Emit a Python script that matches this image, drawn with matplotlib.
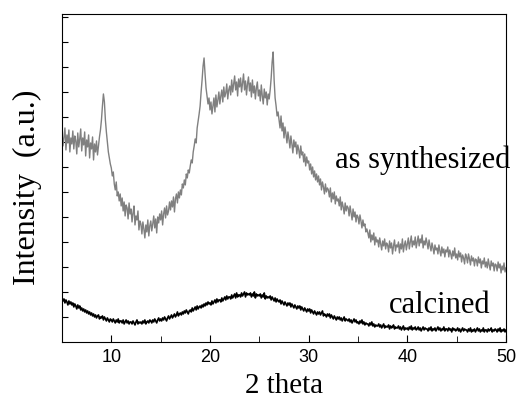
# XRD pattern: as synthesized vs calcined
import numpy as np
import matplotlib.pyplot as plt

# 2 theta grid, 0.1 degree steps from 5 to 50
two_theta = np.round(np.arange(5, 50.001, 0.1), 1)

# intensity (a.u.), one row per degree
as_synthesized = [
    210, 196, 205, 214, 192, 207, 199, 212, 190, 204,
    198, 211, 193, 206, 201, 188, 209, 195, 203, 213,
    191, 204, 197, 210, 186, 202, 195, 207, 184, 199,
    193, 205, 182, 198, 190, 201, 187, 196, 205, 212,
    222, 236, 248, 240, 222, 210, 200, 190, 184, 178,
    174, 166, 170, 158, 152, 160, 146, 150, 141, 148,
    136, 144, 131, 140, 126, 137, 134, 123, 139, 128,
    133, 120, 129, 136, 117, 126, 122, 131, 112, 121,
    118, 108, 120, 113, 104, 117, 110, 122, 106, 116,
    121, 111, 118, 126, 114, 123, 109, 125, 119, 128,
    122, 131, 117, 128, 134, 124, 136, 127, 131, 140,
    132, 141, 135, 145, 130, 143, 148, 139, 150, 144,
    152, 147, 158, 154, 162, 157, 168, 164, 172, 169,
    176, 182, 179, 190, 196, 203, 199, 214, 221, 228,
    236, 250, 262, 276, 284, 268, 254, 246, 238, 244,
    232, 240, 228, 236, 244, 230, 247, 235, 242, 250,
    238, 246, 252, 240, 255, 245, 249, 258, 243, 252,
    256, 247, 262, 250, 258, 266, 252, 260, 246, 263,
    255, 264, 250, 259, 268, 252, 261, 247, 258, 265,
    251, 259, 245, 262, 249, 256, 243, 254, 260, 246,
    252, 241, 257, 246, 238, 253, 244, 250, 237, 248,
    243, 252, 264, 280, 290, 262, 244, 236, 226, 230,
    222, 214, 226, 211, 219, 204, 215, 208, 199, 210,
    203, 194, 206, 198, 189, 202, 195, 200, 188, 197,
    192, 184, 196, 187, 190, 180, 188, 176, 185, 179,
    181, 172, 178, 168, 175, 165, 171, 162, 168, 160,
    166, 157, 163, 152, 160, 155, 148, 158, 150, 154,
    152, 145, 154, 140, 149, 143, 150, 138, 146, 141,
    143, 136, 145, 132, 140, 135, 128, 139, 131, 136,
    134, 126, 136, 129, 122, 133, 125, 130, 120, 127,
    125, 118, 127, 121, 114, 122, 116, 118, 110, 113,
    109, 104, 112, 100, 107, 102, 109, 97, 105, 100,
    102, 95, 104, 98, 92, 101, 96, 103, 93, 99,
    97, 90, 101, 94, 99, 88, 96, 102, 91, 97,
    95, 100, 89, 98, 93, 103, 90, 97, 101, 92,
    98, 104, 93, 100, 106, 95, 101, 97, 105, 94,
    100, 106, 96, 103, 99, 107, 94, 101, 97, 104,
    99, 93, 102, 96, 91, 99, 94, 88, 97, 92,
    94, 88, 97, 91, 86, 95, 89, 93, 85, 92,
    90, 95, 85, 92, 88, 83, 91, 86, 94, 84,
    88, 82, 91, 85, 89, 80, 87, 84, 78, 88,
    85, 79, 88, 83, 77, 86, 81, 84, 76, 83,
    82, 76, 85, 79, 83, 74, 81, 78, 84, 75,
    80, 74, 83, 77, 72, 81, 76, 79, 71, 78,
    77, 71, 80, 74, 78, 69, 76, 72, 79, 70,
    74,
]

calcined = [
    44, 41, 43, 39, 42, 40, 37, 41, 38, 40,
    37, 39, 35, 38, 36, 33, 37, 34, 36, 32,
    34, 31, 33, 30, 32, 29, 31, 28, 30, 27,
    29, 26, 28, 25, 27, 24, 26, 27, 23, 25,
    24, 26, 22, 25, 23, 21, 24, 22, 20, 23,
    22, 20, 23, 21, 19, 22, 20, 23, 19, 21,
    21, 19, 22, 18, 20, 22, 19, 21, 18, 20,
    20, 18, 21, 19, 17, 20, 22, 18, 20, 19,
    20, 18, 21, 19, 22, 18, 20, 21, 19, 22,
    21, 19, 22, 20, 23, 21, 19, 22, 24, 21,
    23, 21, 24, 22, 25, 23, 21, 24, 26, 23,
    25, 27, 24, 26, 28, 25, 27, 30, 26, 28,
    29, 27, 30, 28, 31, 29, 32, 30, 28, 31,
    32, 30, 34, 31, 33, 35, 32, 36, 33, 35,
    36, 34, 37, 35, 38, 36, 39, 37, 40, 38,
    39, 37, 41, 38, 40, 42, 39, 43, 40, 42,
    42, 40, 44, 41, 43, 45, 42, 46, 43, 45,
    45, 43, 47, 44, 46, 48, 44, 49, 45, 47,
    47, 45, 49, 46, 48, 50, 45, 49, 47, 48,
    47, 49, 45, 48, 46, 50, 44, 48, 46, 47,
    46, 48, 44, 47, 45, 49, 43, 46, 44, 45,
    44, 46, 42, 45, 43, 41, 44, 40, 43, 41,
    40, 42, 38, 41, 39, 37, 40, 38, 36, 39,
    37, 39, 35, 38, 36, 34, 37, 35, 33, 36,
    34, 36, 32, 35, 33, 31, 34, 32, 30, 33,
    31, 33, 29, 32, 30, 28, 31, 29, 27, 30,
    28, 30, 27, 29, 31, 26, 28, 27, 25, 28,
    26, 28, 24, 27, 25, 23, 26, 24, 22, 25,
    23, 25, 22, 24, 21, 23, 25, 21, 23, 22,
    21, 23, 20, 22, 19, 21, 23, 20, 22, 19,
    20, 18, 21, 19, 22, 18, 20, 17, 19, 18,
    18, 16, 19, 17, 20, 16, 18, 15, 17, 16,
    16, 18, 15, 17, 14, 16, 18, 14, 16, 15,
    15, 17, 13, 16, 14, 15, 17, 13, 15, 14,
    14, 16, 13, 15, 12, 14, 16, 12, 14, 13,
    14, 12, 15, 13, 16, 12, 14, 13, 15, 12,
    13, 15, 12, 14, 11, 13, 15, 12, 14, 13,
    13, 11, 14, 12, 15, 11, 13, 12, 14, 11,
    13, 15, 12, 14, 11, 13, 12, 15, 11, 13,
    13, 11, 14, 12, 13, 10, 14, 12, 13, 11,
    12, 14, 11, 13, 10, 12, 14, 11, 13, 12,
    12, 10, 13, 11, 14, 10, 12, 11, 13, 10,
    12, 14, 11, 13, 10, 12, 11, 14, 10, 12,
    12, 10, 13, 11, 12, 14, 10, 12, 11, 13,
    12, 10, 13, 11, 14, 10, 12, 11, 13, 10,
    12,
]

serif = 'Liberation Serif'

fig = plt.figure(figsize=(5.23, 3.99), dpi=100)
ax = fig.add_axes([0.1185, 0.143, 0.849, 0.822])

ax.plot(two_theta, as_synthesized, color='#808080', lw=1.0)
ax.plot(two_theta, calcined, color='black', lw=1.2)

ax.set_xlim(5, 50)
ax.set_ylim(0, 328)

ax.set_xticks([10, 20, 30, 40, 50])
ax.set_xticks([5, 15, 25, 35, 45], minor=True)
ax.set_yticks(np.arange(25, 328, 25))
ax.set_yticklabels([])
ax.tick_params(axis='x', direction='in', length=5, labelsize=13, pad=5)
ax.tick_params(axis='x', which='minor', direction='in', length=4)
ax.tick_params(axis='y', direction='in', length=4)
for lbl in ax.get_xticklabels():
    lbl.set_fontfamily('Liberation Sans')

# axis titles
fig.text(284 / 523, 6 / 399, '2 theta', ha='center', va='baseline',
         fontfamily=serif, fontsize=21)
fig.text(27 / 523, 0.53, 'Intensity  (a.u.)', ha='center', va='center',
         rotation=90, fontfamily=serif, fontsize=23)

# curve labels
ax.text(50.4, 174, 'as synthesized', ha='right', va='baseline',
        fontfamily=serif, fontsize=22)
ax.text(48.4, 29, 'calcined', ha='right', va='baseline',
        fontfamily=serif, fontsize=22)

fig.savefig('out.png', dpi=100)
